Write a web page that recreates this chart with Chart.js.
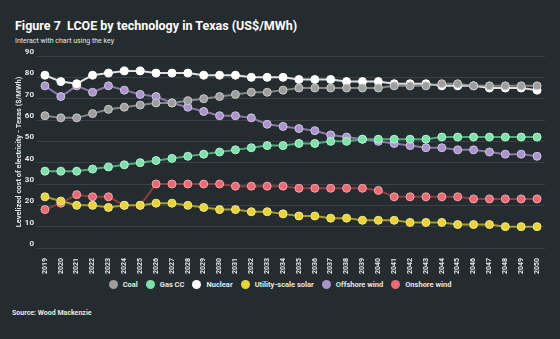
<!DOCTYPE html>
<html>
<head>
<meta charset="utf-8">
<script src="https://cdn.jsdelivr.net/npm/chart.js@4"></script>
<style>
  html, body { margin: 0; padding: 0; background: #242c2f; }
  #wrap { position: relative; width: 560px; height: 339px; background: #242c2f; font-family: Roboto, 'Noto Sans', sans-serif; }
  #title { position: absolute; left: 15px; top: 18px; color: #fff; font-weight: bold; font-size: 12.5px; white-space: nowrap; }
  #sub { position: absolute; left: 15px; top: 37px; color: #e6e6e6; font-size: 7px; }
  #source { position: absolute; left: 12px; top: 309px; color: #e6e6e6; font-size: 7px; font-weight: bold; }
  #box { position: absolute; left: 0; top: 40px; width: 560px; height: 236px; }
  #legend { position: absolute; left: 0; top: 280px; width: 560px; display: flex; justify-content: center; align-items: center;
            color: #e6e6e6; font-size: 7.5px; font-weight: bold; }
  #legend span.item { display: flex; align-items: center; margin: 0 4px; }
  #legend span.dot { width: 9px; height: 9px; border-radius: 50%; margin-right: 5px; display: inline-block; }
</style>
</head>
<body>
<div id="wrap">
  <div id="title">Figure 7&nbsp; LCOE by technology in Texas (US$/MWh)</div>
  <div id="sub">Interact with chart using the key</div>
  <div id="box"><canvas id="chart"></canvas></div>
  <div id="legend"></div>
  <div id="source">Source: Wood Mackenzie</div>
</div>
<script>
const years = ['2019','2020','2021','2022','2023','2024','2025','2026','2027','2028','2029','2030','2031','2032','2033','2034',
               '2035','2036','2037','2038','2039','2040','2041','2042','2043','2044','2045','2046','2047','2048','2049','2050'];

const coal     = [62,61,61,63,65,66,67,68,68,69,70,71,72,73,73,74,75,75,75,75,75,75,76,76,76,77,77,76,76,76,76,76];
const gasCC    = [36,36,36,37,38,39,40,41,42,43,44,45,46,47,48,48,49,49,50,50,51,51,51,51,51,52,52,52,52,52,52,52];
const nuclear  = [81,78,77,81,82,83,83,82,82,82,81,81,81,80,80,80,79,79,79,78,78,78,77,77,77,76,76,76,75,75,75,74];
const solar    = [24,22,20,20,19,20,20,21,21,20,19,18,18,17,17,16,15,15,14,14,13,13,13,12,12,12,11,11,11,10,10,10];
const offshore = [76,71,76,73,76,74,72,71,68,66,64,62,62,61,58,57,56,55,53,52,51,50,49,48,47,47,46,46,45,44,44,43];
const onshore  = [18,21,25,24,24,20,20,30,30,30,30,30,29,29,29,29,28,28,28,28,28,27,24,24,24,24,24,23,23,23,23,23];

const yMin = 0, yMax = 90, yStep = 10;

function series(label, data, fill, ring, line) {
    return {
        label: label,
        data: data,
        borderColor: line,
        backgroundColor: fill,
        borderWidth: 2,
        pointRadius: 4,
        pointHoverRadius: 4,
        pointBackgroundColor: fill,
        pointBorderColor: ring,
        pointBorderWidth: 1,
        tension: 0
    };
}

const datasets = [
    series('Coal', coal, '#9e9e9e', '#c9c9c9', 'rgba(165,165,165,0.75)'),
    series('Gas CC', gasCC, '#7fe0ad', '#b8f1d2', '#4cab7b'),
    series('Nuclear', nuclear, '#ffffff', '#ffffff', 'rgba(255,255,255,0.85)'),
    series('Utility-scale solar', solar, '#e6d43a', '#f3e88c', '#a99a2b'),
    series('Offshore wind', offshore, '#aa95ca', '#d0c3e3', '#8878a2'),
    series('Onshore wind', onshore, '#e86a74', '#f2a6ac', '#8f3d42')
];

new Chart(document.getElementById('chart'), {
    type: 'line',
    data: { labels: years, datasets: datasets },
    options: {
        responsive: true,
        maintainAspectRatio: false,
        animation: false,
        layout: { padding: { left: 15, right: 15, top: 16, bottom: 0 } },
        plugins: {
            tooltip: { enabled: false },
            legend: { display: false }
        },
        scales: {
            x: {
                offset: true,
                grid: { display: false },
                border: { display: false },
                ticks: {
                    color: '#e6e6e6',
                    font: { family: 'Roboto', size: 7, weight: 'bold' },
                    minRotation: 90,
                    maxRotation: 90,
                    autoSkip: false,
                    padding: 2
                },
                afterFit: (scale) => { scale.height = 28; }
            },
            y: {
                min: yMin,
                max: yMax,
                grid: { color: 'rgba(255,255,255,0.1)', lineWidth: 1, drawTicks: false },
                border: { display: false },
                ticks: {
                    stepSize: yStep,
                    autoSkip: false,
                    color: '#e6e6e6',
                    font: { family: 'Roboto', size: 8, weight: 'bold' },
                    padding: 3,
                    labelOffset: -4
                },
                title: {
                    display: true,
                    text: 'Levelized cost of electricity - Texas ($/MWh)',
                    color: '#e6e6e6',
                    font: { family: 'Roboto', size: 7.5, weight: 'bold' },
                    padding: { top: 0, bottom: 2 }
                },
                afterFit: (scale) => { scale.width = 22; }
            }
        }
    }
});

// key under the chart, built from the same datasets
const legend = document.getElementById('legend');
datasets.forEach(ds => {
    const item = document.createElement('span');
    item.className = 'item';
    const dot = document.createElement('span');
    dot.className = 'dot';
    dot.style.background = ds.backgroundColor;
    item.appendChild(dot);
    item.appendChild(document.createTextNode(ds.label));
    legend.appendChild(item);
});
</script>
</body>
</html>
